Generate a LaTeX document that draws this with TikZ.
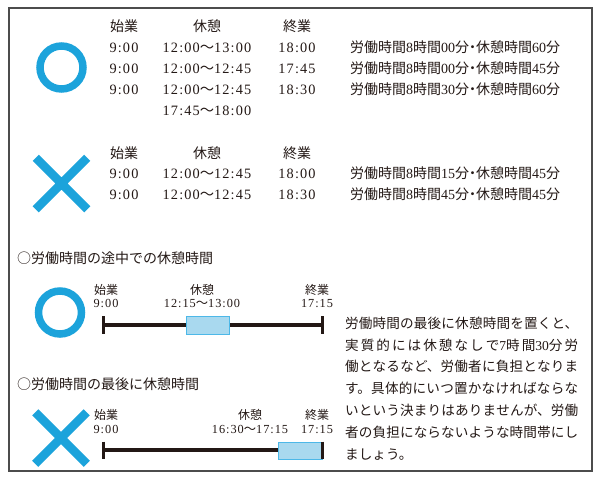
\documentclass[tikz,border=0pt]{standalone}
\usepackage{fontspec}
\setmainfont{Liberation Serif}
\newfontfamily\jp{Noto Sans CJK JP}
\newfontfamily\tmfont[LetterSpace=8]{Liberation Serif}
\usetikzlibrary{shapes.misc}
\definecolor{markblue}{RGB}{28,163,219}
\definecolor{restfill}{RGB}{169,217,239}
\definecolor{restline}{RGB}{77,184,232}
\definecolor{ink}{RGB}{35,24,21}
\newcommand\wave{{\jp 〜}}
\newcommand\work[2]{{\jp 労働時間}8{\jp 時間}#1{\jp 分\kern-3.5pt・\kern-3.5pt休憩時間}#2{\jp 分}}
\tikzset{
  okmark/.style={circle,draw=markblue,line width=7.5pt,minimum size=43pt,inner sep=0pt},
  ngmark/.style={cross out,draw=markblue,line width=8.5pt,minimum size=43pt,inner sep=0pt},
  head/.style={anchor=base,inner sep=0pt,text=ink,font=\fontsize{14pt}{16pt}\jp},
  tm/.style={anchor=base,inner sep=0pt,text=ink,font=\fontsize{14.3pt}{16pt}\tmfont},
  note/.style={anchor=base west,inner sep=0pt,text=ink,font=\fontsize{14pt}{16pt}\selectfont},
  sec/.style={anchor=base west,inner sep=0pt,text=ink,font=\fontsize{14pt}{16pt}\jp},
  tlhead/.style={anchor=base,inner sep=0pt,text=ink,font=\fontsize{12pt}{14pt}\jp},
  tltm/.style={anchor=base,inner sep=0pt,text=ink,font=\fontsize{12.3pt}{14pt}\tmfont},
  para/.style={anchor=north west,inner sep=0pt,text=ink,text width=233pt,align=justify,
    font=\fontsize{13.6pt}{21.8pt}\jp},
  frame/.style={draw=black!70,line width=1.3pt},
  bar/.style={draw=ink,line width=3.2pt},
  tick/.style={draw=ink,line width=3pt},
  rest/.style={fill=restfill,draw=restline,line width=0.8pt}
}
\begin{document}
\begin{tikzpicture}[x=1pt,y=-1pt]
  \useasboundingbox (0,0) rectangle (600,480);
  \draw[frame] (9,8) rectangle (592,471);

  \node[okmark] (ok1) at (61.5,67.5) {};
  \node[head] (h1a) at (124,31) {始業};
  \node[head] (h1b) at (207,31) {休憩};
  \node[head] (h1c) at (297,31) {終業};
  \node[tm] (s11) at (124,52) {9:00};
  \node[tm] (s12) at (124,73) {9:00};
  \node[tm] (s13) at (124,94) {9:00};
  \node[tm] (k11) at (207,52) {12:00\wave13:00};
  \node[tm] (k12) at (207,73) {12:00\wave12:45};
  \node[tm] (k13) at (207,94) {12:00\wave12:45};
  \node[tm] (k14) at (207,115) {17:45\wave18:00};
  \node[tm] (e11) at (297,52) {18:00};
  \node[tm] (e12) at (297,73) {17:45};
  \node[tm] (e13) at (297,94) {18:30};
  \node[note] (n11) at (350,52) {\work{00}{60}};
  \node[note] (n12) at (350,73) {\work{00}{45}};
  \node[note] (n13) at (350,94) {\work{30}{60}};

  \node[ngmark] (ng1) at (61.5,183.5) {};
  \node[head] (h2a) at (124,158) {始業};
  \node[head] (h2b) at (207,158) {休憩};
  \node[head] (h2c) at (297,158) {終業};
  \node[tm] (s21) at (124,178) {9:00};
  \node[tm] (s22) at (124,199) {9:00};
  \node[tm] (k21) at (207,178) {12:00\wave12:45};
  \node[tm] (k22) at (207,199) {12:00\wave12:45};
  \node[tm] (e21) at (297,178) {18:00};
  \node[tm] (e22) at (297,199) {18:30};
  \node[note] (n21) at (350,178) {\work{15}{45}};
  \node[note] (n22) at (350,199) {\work{45}{45}};

  \node[sec] (sec1) at (17,263) {○労働時間の途中での休憩時間};
  \node[okmark] (ok2) at (60,312.5) {};
  \node[tlhead] (t1a) at (106,294.5) {始業};
  \node[tltm] (t1b) at (106,307.5) {9:00};
  \node[tlhead] (t1c) at (202,294.5) {休憩};
  \node[tltm] (t1d) at (202,307.5) {12:15\wave13:00};
  \node[tlhead] (t1e) at (317,294.5) {終業};
  \node[tltm] (t1f) at (317,307.5) {17:15};
  \coordinate (b1s) at (103,325);
  \coordinate (b1e) at (322,325);
  \draw[bar] (b1s) -- (b1e);
  \draw[rest] (186,316) rectangle (229,334);
  \draw[tick] (103,316) -- (103,334);
  \draw[tick] (322,316) -- (322,334);

  \node[sec] (sec2) at (17,389) {○労働時間の最後に休憩時間};
  \node[ngmark] (ng2) at (61,438) {};
  \node[tlhead] (t2a) at (106,419.5) {始業};
  \node[tltm] (t2b) at (106,433) {9:00};
  \node[tlhead] (t2c) at (250,419.5) {休憩};
  \node[tltm] (t2d) at (250,433) {16:30\wave17:15};
  \node[tlhead] (t2e) at (317,419.5) {終業};
  \node[tltm] (t2f) at (317,433) {17:15};
  \coordinate (b2s) at (103,450);
  \coordinate (b2e) at (322,450);
  \draw[bar] (b2s) -- (b2e);
  \draw[rest] (278,442) rectangle (322,459);
  \draw[tick] (103,441.5) -- (103,459);
  \draw[tick] (322,441.5) -- (322,459);

  \node[para] (memo) at (345,316.5) {\XeTeXlinebreaklocale "ja"\XeTeXlinebreakskip=0pt plus 2pt\tolerance=10000
    労働時間の最後に休憩時間を置くと、\linebreak
    実質的には休憩なしで{\rmfamily 7}時間{\rmfamily 30}分労\linebreak
    働となるなど、労働者に負担となりま\linebreak
    す。具体的にいつ置かなければならな\linebreak
    いという決まりはありませんが、労働\linebreak
    者の負担にならないような時間帯にし\linebreak
    ましょう。};
\end{tikzpicture}
\end{document}
